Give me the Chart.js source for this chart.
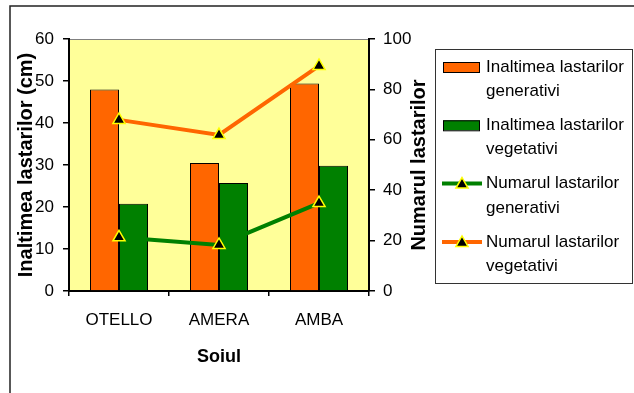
<!DOCTYPE html>
<html>
<head>
<meta charset="utf-8">
<script src="https://cdn.jsdelivr.net/npm/chart.js@4"></script>
<style>
  html, body { margin: 0; padding: 0; background: #fff; }
  #wrap { width: 634px; height: 393px; position: relative; }
</style>
</head>
<body>
<div id="wrap"><canvas id="chart"></canvas></div>
<script>
// categorii (soiuri)
const soiuri = ['OTELLO', 'AMERA', 'AMBA'];

// inaltimea lastarilor (cm) - axa stanga
const inaltimeGenerativi = [48, 30.5, 49.4];
const inaltimeVegetativi = [20.8, 25.7, 29.8];

// numarul lastarilor - axa dreapta
const numarGenerativi = [21.3, 18.3, 34.9];
const numarVegetativi = [67.9, 61.9, 89.3];

// etichete legenda (pe doua randuri)
const numeSerii = [
    ['Inaltimea lastarilor', 'generativi'],
    ['Inaltimea lastarilor', 'vegetativi'],
    ['Numarul lastarilor', 'generativi'],
    ['Numarul lastarilor', 'vegetativi']
];

const titluDreapta = 'Numarul lastarilor';

const ORANGE = '#FF6600';
const GREEN = '#008000';
const FONT = '"Liberation Sans", Arial, sans-serif';

Chart.defaults.font.family = FONT;
Chart.defaults.color = '#000';

// fundal galben al zonei de grafic + chenarul exterior
const plotBackground = {
    id: 'plotBackground',
    beforeDraw(chart) {
        const { ctx, chartArea: a } = chart;
        ctx.save();
        ctx.strokeStyle = '#222';
        ctx.lineWidth = 1.5;
        ctx.strokeRect(10, 6, 700, 500);
        ctx.fillStyle = '#FFFF99';
        ctx.fillRect(a.left, a.top, a.right - a.left, a.bottom - a.top);
        ctx.strokeStyle = '#808080';
        ctx.lineWidth = 1;
        ctx.strokeRect(a.left, a.top + 0.5, a.right - a.left, a.bottom - a.top);
        ctx.restore();
    }
};

// titlul axei din dreapta, citit de jos in sus (ca in Excel)
const rightTitle = {
    id: 'rightTitle',
    afterDraw(chart) {
        const { ctx, scales } = chart;
        const s = scales.yRight;
        ctx.save();
        ctx.translate(s.right - 16, (s.top + s.bottom) / 2);
        ctx.rotate(-Math.PI / 2);
        ctx.font = 'bold 20px ' + FONT;
        ctx.fillStyle = '#000';
        ctx.textAlign = 'center';
        ctx.textBaseline = 'middle';
        ctx.fillText(titluDreapta, 0, 0);
        ctx.restore();
    }
};

function triangle(ctx, x, y, r) {
    ctx.beginPath();
    ctx.moveTo(x, y - r);
    ctx.lineTo(x + r * Math.sin(2 * Math.PI / 3), y - r * Math.cos(2 * Math.PI / 3));
    ctx.lineTo(x + r * Math.sin(4 * Math.PI / 3), y - r * Math.cos(4 * Math.PI / 3));
    ctx.closePath();
    ctx.fill();
    ctx.stroke();
}

// legenda in caseta, cu etichete pe doua randuri
const legendBox = {
    id: 'legendBox',
    afterDraw(chart) {
        const ctx = chart.ctx;
        ctx.save();
        ctx.strokeStyle = '#333';
        ctx.lineWidth = 1;
        ctx.strokeRect(435.5, 49.5, 197, 234);
        ctx.font = '17px ' + FONT;
        ctx.textBaseline = 'middle';
        chart.data.datasets.forEach((ds, i) => {
            const y = 67 + i * 58.3;
            if (ds.type === 'line') {
                ctx.strokeStyle = ds.borderColor;
                ctx.lineWidth = 4;
                ctx.beginPath();
                ctx.moveTo(442, y);
                ctx.lineTo(482, y);
                ctx.stroke();
                ctx.fillStyle = '#000';
                ctx.strokeStyle = '#FFFF00';
                ctx.lineWidth = 1.5;
                triangle(ctx, 462, y + 1, 7);
            } else {
                ctx.fillStyle = ds.backgroundColor;
                ctx.fillRect(443, y - 5, 37, 10);
                ctx.strokeStyle = '#000';
                ctx.lineWidth = 1;
                ctx.strokeRect(443.5, y - 4.5, 36, 10);
            }
            ctx.fillStyle = '#000';
            ds.legendLines.forEach((t, j) => ctx.fillText(t, 486, y + j * 24.5));
        });
        ctx.restore();
    }
};

const lineStyle = {
    type: 'line',
    yAxisID: 'yRight',
    borderWidth: 4,
    tension: 0,
    pointStyle: 'triangle',
    pointRadius: 7,
    pointHoverRadius: 7,
    pointBackgroundColor: '#000',
    pointBorderColor: '#FFFF00',
    pointBorderWidth: 1.5,
    order: 0
};

new Chart(document.getElementById('chart'), {
    type: 'bar',
    data: {
        labels: soiuri,
        datasets: [
            {
                type: 'bar', label: numeSerii[0].join(' '), legendLines: numeSerii[0],
                data: inaltimeGenerativi, yAxisID: 'y',
                backgroundColor: ORANGE, borderColor: '#000', borderWidth: 1, order: 1
            },
            {
                type: 'bar', label: numeSerii[1].join(' '), legendLines: numeSerii[1],
                data: inaltimeVegetativi, yAxisID: 'y',
                backgroundColor: GREEN, borderColor: '#000', borderWidth: 1, order: 1
            },
            Object.assign({}, lineStyle, {
                label: numeSerii[2].join(' '), legendLines: numeSerii[2],
                data: numarGenerativi, borderColor: GREEN
            }),
            Object.assign({}, lineStyle, {
                label: numeSerii[3].join(' '), legendLines: numeSerii[3],
                data: numarVegetativi, borderColor: ORANGE
            })
        ]
    },
    options: {
        responsive: true,
        maintainAspectRatio: false,
        animation: false,
        datasets: { bar: { barPercentage: 1, categoryPercentage: 0.58 } },
        layout: { padding: { left: 10, right: 199, top: 39, bottom: 21 } },
        plugins: { legend: { display: false }, tooltip: { enabled: false } },
        scales: {
            x: {
                afterFit: s => { s.height = 81; },
                grid: { drawOnChartArea: false, tickLength: 5, color: '#000', lineWidth: 1.5 },
                border: { color: '#000', width: 2 },
                ticks: { font: { size: 17 }, padding: 14, color: '#000' },
                title: { display: true, text: 'Soiul', font: { size: 18, weight: 'bold' }, color: '#000' }
            },
            y: {
                position: 'left',
                min: 0, max: 60,
                afterFit: s => { s.width = 59; },
                grid: { drawOnChartArea: false, tickLength: 6, color: '#000', lineWidth: 1.5 },
                border: { color: '#000', width: 2 },
                ticks: { stepSize: 10, font: { size: 17 }, padding: 9, color: '#000' },
                title: { display: true, text: 'Inaltimea lastarilor (cm)', font: { size: 20, weight: 'bold' }, color: '#000' }
            },
            yRight: {
                position: 'right',
                min: 0, max: 100,
                afterFit: s => { s.width = 66; },
                grid: { drawOnChartArea: false, tickLength: 6, color: '#000', lineWidth: 1.5 },
                border: { color: '#000', width: 2 },
                ticks: { stepSize: 20, font: { size: 17 }, padding: 8, color: '#000' }
            }
        }
    },
    plugins: [plotBackground, rightTitle, legendBox]
});
</script>
</body>
</html>
